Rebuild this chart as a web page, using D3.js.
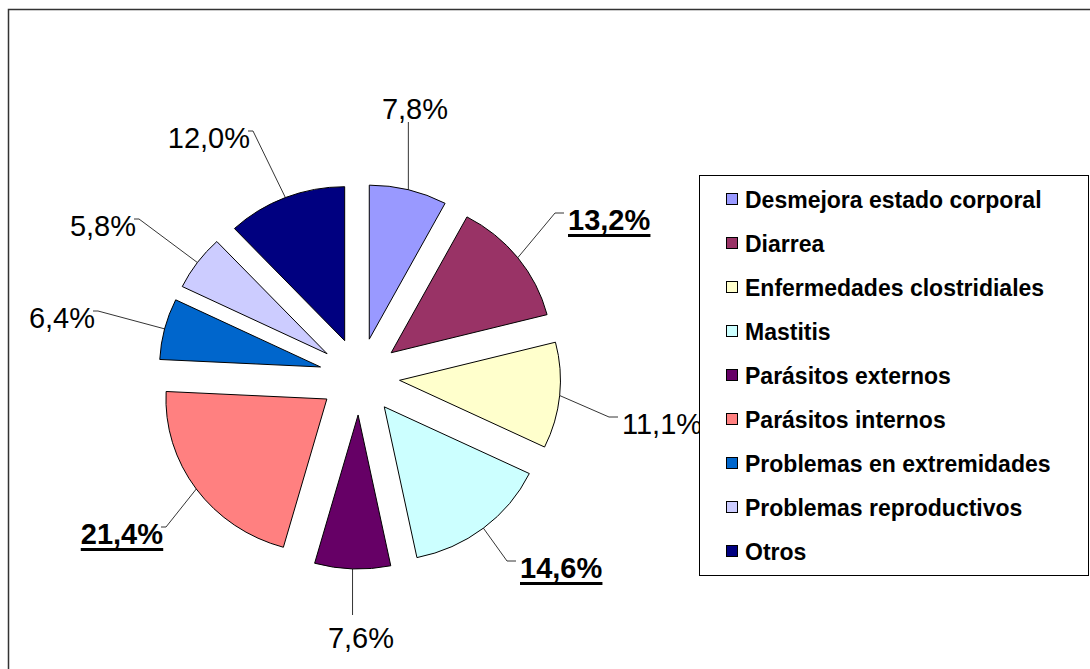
<!DOCTYPE html>
<head>
<meta charset="utf-8">
<style>
body { margin: 0; background: #fff; }
svg { display: block; }
text { font-family: Arial, "Liberation Sans", sans-serif; }
.slice { stroke: #000; stroke-width: 1; vector-effect: non-scaling-stroke; }
.leader { fill: none; stroke: #000; stroke-width: 0.8; }
.pct { font-size: 29px; fill: #000; }
.pct.hi { font-weight: bold; }
.legend text { font-size: 23px; font-weight: bold; fill: #000; }
</style>
<title>Causas de enfermedad</title>
</head>
<body>
<svg width="1090" height="669"></svg>
<script src="https://cdn.jsdelivr.net/npm/d3@7"></script>
<script>
var categories = ["Desmejora estado corporal", "Diarrea", "Enfermedades clostridiales", "Mastitis",
  "Parásitos externos", "Parásitos internos", "Problemas en extremidades", "Problemas reproductivos", "Otros"]
var values = [7.8, 13.2, 11.1, 14.6, 7.6, 21.4, 6.4, 5.8, 12.0]
var colors = ["#9999FF", "#993366", "#FFFFCC", "#CCFFFF", "#660066", "#FF8080", "#0066CC", "#CCCCFF", "#000080"]

// where each percentage label sits (baseline) and how it is anchored
var labelLayout = [[415, 119, "middle"], [568, 230, "start"], [622, 434, "start"], [520, 578, "start"],
  [361, 648, "middle"], [163, 544, "end"], [95, 328, "end"], [136, 236, "end"], [250, 148, "end"]]

var svg = d3.select("svg")
var cx = 359.5, cy = 376.5, ry = 154, kx = 1.045, explode = 38.5

var fmt = v => d3.format(".1f")(v).replace(".", ",") + "%"
var top3 = values.slice().sort((a, b) => b - a)[2]

// frame
svg.append("path")
    .attr("d", "M8.5,669V9.5H1090")
    .attr("fill", "none")
    .attr("stroke", "#333")
    .attr("stroke-width", 1.5)

var pie = d3.pie().sort(null).value(d => d)
var arcs = pie(values)
var arc = d3.arc().innerRadius(0).outerRadius(ry)

function offset(d) {
  var m = (d.startAngle + d.endAngle) / 2
  return [explode * kx * Math.sin(m), -explode * Math.cos(m)]
}

svg.append("g").selectAll("path")
  .data(arcs)
  .enter().append("path")
    .attr("class", "slice")
    .attr("fill", (d, i) => colors[i])
    .attr("transform", d => {
      var o = offset(d)
      return "translate(" + (cx + o[0]) + "," + (cy + o[1]) + ") scale(" + kx + ",1)"
    })
    .attr("d", arc)

// leaders
svg.append("g").selectAll("path")
  .data(arcs)
  .enter().append("path")
    .attr("class", "leader")
    .attr("d", (d, i) => {
      var m = (d.startAngle + d.endAngle) / 2, o = offset(d)
      var px = cx + o[0] + kx * ry * Math.sin(m), py = cy + o[1] - ry * Math.cos(m)
      var L = labelLayout[i]
      if (L[2] == "middle") {
        var ey = py < cy ? L[1] + 3 : L[1] - 33
        return "M" + px + "," + py + "L" + px + "," + ey
      }
      if (L[2] == "start")
        return "M" + px + "," + py + "L" + (L[0] - 13) + "," + (L[1] - 17) + "H" + (L[0] - 4)
      return "M" + px + "," + py + "L" + (L[0] + 3) + "," + (L[1] - 17) + "H" + (L[0] - 2)
    })

// labels
var lab = svg.append("g").selectAll("g")
  .data(values)
  .enter().append("g")

lab.append("text")
    .attr("class", d => d >= top3 ? "pct hi" : "pct")
    .attr("x", (d, i) => labelLayout[i][0])
    .attr("y", (d, i) => labelLayout[i][1])
    .attr("text-anchor", (d, i) => labelLayout[i][2])
    .text(d => fmt(d))

lab.each(function(d, i) {
  if (d < top3) return
  var t = d3.select(this).select("text").node()
  var b = t.getBBox()
  d3.select(this).append("rect")
      .attr("x", b.x)
      .attr("y", labelLayout[i][1] + 4)
      .attr("width", b.width)
      .attr("height", 3)
      .attr("fill", "#000")
})

// legend
var legend = svg.append("g").attr("class", "legend")
legend.append("rect")
    .attr("x", 699.5).attr("y", 175.5)
    .attr("width", 389).attr("height", 400)
    .attr("fill", "#fff").attr("stroke", "#000")

var rowY = d3.scalePoint().domain(categories).range([200, 552])

var item = legend.selectAll(".item")
  .data(categories)
  .enter().append("g")
    .attr("class", "item")
    .attr("transform", d => "translate(0," + rowY(d) + ")")

item.append("rect")
    .attr("x", 726.5).attr("y", -6.5)
    .attr("width", 11).attr("height", 11)
    .attr("fill", (d, i) => colors[i])
    .attr("stroke", "#000")

item.append("text")
    .attr("x", 745)
    .attr("y", 8)
    .text(d => d)
</script>
</body>
